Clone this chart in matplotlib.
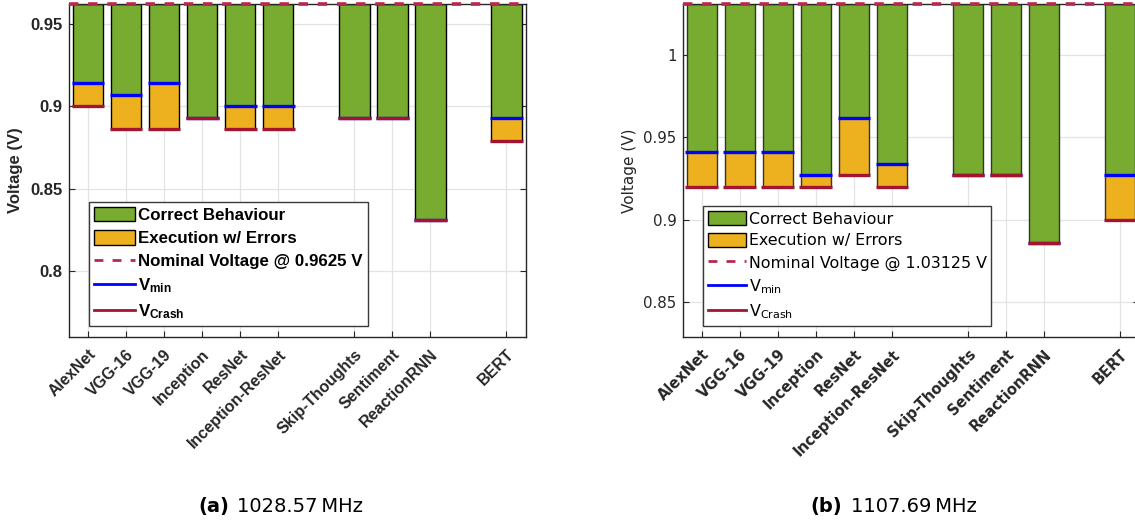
import matplotlib
matplotlib.use("Agg")
import matplotlib.pyplot as plt
from matplotlib.patches import Patch
from matplotlib.lines import Line2D
from matplotlib.font_manager import FontProperties
from matplotlib.transforms import ScaledTranslation

# bold Liberation Sans for the subscripts of the left panel legend
plt.rcParams['mathtext.fontset'] = 'custom'
plt.rcParams['mathtext.rm'] = 'Liberation Sans:bold'
plt.rcParams['mathtext.it'] = 'Liberation Sans:bold'
plt.rcParams['mathtext.bf'] = 'Liberation Sans:bold'

# --- Data ---
models = ['AlexNet', 'VGG-16', 'VGG-19', 'Inception', 'ResNet', 'Inception-ResNet',
          'Skip-Thoughts', 'Sentiment', 'ReactionRNN', 'BERT']

freq_a = '1028.57'
nominal_a = 0.9625
vmin_a = [0.914, 0.907, 0.914, 0.893, 0.900, 0.900, 0.893, 0.893, 0.831, 0.893]
vcrash_a = [0.900, 0.886, 0.886, 0.893, 0.886, 0.886, 0.893, 0.893, 0.831, 0.879]
yticks_a = [0.8, 0.85, 0.9, 0.95]
yticklabels_a = ['0.8', '0.85', '0.9', '0.95']

freq_b = '1107.69'
nominal_b = 1.03125
vmin_b = [0.941, 0.941, 0.941, 0.927, 0.962, 0.934, 0.927, 0.927, 0.886, 0.927]
vcrash_b = [0.920, 0.920, 0.920, 0.920, 0.927, 0.920, 0.927, 0.927, 0.886, 0.900]
yticks_b = [0.85, 0.9, 0.95, 1.0]
yticklabels_b = ['0.85', '0.9', '0.95', '1']

# bar slots, with gaps between the CNN / RNN / transformer groups
xpos = [1, 2, 3, 4, 5, 6, 8, 9, 10, 12]

GREEN = '#77AC30'
ORANGE = '#EDB120'
BLUE = '#0000FF'
CRASH = '#A2142F'
NOMINAL = '#B5294E'
AXC = '#262626'


def draw_panel(fig, ax, nominal, vmin, vcrash, ylo, yticks, yticklabels,
               family, tick_size, xtick_size, label_size, leg_size,
               label_weight, leg_weight, math_family, edge):
    bw = 0.8
    err = [v - c for v, c in zip(vmin, vcrash)]
    ok = [nominal - v for v in vmin]
    ax.bar(xpos, err, bottom=vcrash, width=bw, color=ORANGE, edgecolor=edge,
           linewidth=1.0, zorder=2)
    ax.bar(xpos, ok, bottom=vmin, width=bw, color=GREEN, edgecolor=edge,
           linewidth=1.0, zorder=2)
    x0 = [x - 0.43 for x in xpos]
    x1 = [x + 0.43 for x in xpos]
    ax.hlines(vmin, x0, x1, color=BLUE, linewidth=2.4, zorder=4)
    ax.hlines(vcrash, x0, x1, color=CRASH, linewidth=2.4, zorder=5)
    ax.axhline(nominal, color=NOMINAL, linewidth=2.6, linestyle=(0, (2.6, 2.7)),
               clip_on=False, zorder=6)

    ax.set_xlim(0.5, 12.5)
    ax.set_ylim(ylo, nominal)
    ax.set_yticks(yticks)
    ax.set_yticklabels(yticklabels, family=family, fontsize=tick_size,
                       fontweight=label_weight, color=AXC)
    ax.set_xticks(xpos)
    ax.set_xticklabels(models, rotation=45, ha='right', va='top',
                       rotation_mode='anchor', family=family,
                       fontsize=xtick_size, fontweight='bold', color=AXC)
    shift = ScaledTranslation(6 / 100, 0, fig.dpi_scale_trans)
    for lab in ax.get_xticklabels():
        lab.set_transform(lab.get_transform() + shift)

    ax.tick_params(axis='both', direction='in', top=True, right=True,
                   length=4, width=0.8, color=AXC)
    ax.tick_params(axis='x', pad=7)
    ax.tick_params(axis='y', pad=4.5)
    ax.grid(True, color='#e3e3e3', linewidth=0.9)
    ax.set_axisbelow(True)
    for sp in ax.spines.values():
        sp.set_color(AXC)
        sp.set_linewidth(1.0)

    ax.set_ylabel('Voltage (V)', family=family, fontsize=label_size,
                  fontweight=label_weight, color=AXC)
    ax.yaxis.set_label_coords(-0.101, 0.5)

    fp = FontProperties(family=family, weight=leg_weight, size=leg_size,
                        math_fontfamily=math_family)
    handles = [
        Patch(facecolor=GREEN, edgecolor='black', label='Correct Behaviour'),
        Patch(facecolor=ORANGE, edgecolor='black', label='Execution w/ Errors'),
        Line2D([], [], color=NOMINAL, linewidth=2.0, linestyle=(0, (3.2, 3.3)),
               label=f'Nominal Voltage @ {nominal:g} V'),
        Line2D([], [], color=BLUE, linewidth=2.0, label=r'V$_{\mathrm{min}}$'),
        Line2D([], [], color=CRASH, linewidth=2.0, label=r'V$_{\mathrm{Crash}}$'),
    ]
    leg = ax.legend(handles=handles, loc='lower left', bbox_to_anchor=(0.044, 0.033),
                    borderaxespad=0, prop=fp, fancybox=False, framealpha=1,
                    edgecolor='#3a3a3a', handlelength=2.4, handleheight=0.95,
                    handletextpad=0.2, labelspacing=0.42, borderpad=0.3)
    leg.get_frame().set_linewidth(1.0)
    for t in leg.get_texts():
        t.set_color('black')


fig = plt.figure(figsize=(11.35, 5.24), dpi=100)
ax_a = fig.add_axes([69 / 1135, 187 / 524, 456.5 / 1135, 333.2 / 524])
ax_b = fig.add_axes([682.7 / 1135, 187 / 524, 456.5 / 1135, 333.2 / 524])

draw_panel(fig, ax_a, nominal_a, vmin_a, vcrash_a, 0.7597, yticks_a, yticklabels_a,
           'Liberation Sans', 12, 11.5, 12, 12.2, 'bold', 'bold', 'custom', 'black')
draw_panel(fig, ax_b, nominal_b, vmin_b, vcrash_b, 0.8287, yticks_b, yticklabels_b,
           'DejaVu Sans', 10.8, 10.5, 11, 11.4, 'normal', 'normal', 'dejavusans', '#333333')

# sub-figure captions
cap_y = 1 - 512 / 524
fig.text(198 / 1135, cap_y, '(a)', fontsize=14, fontweight='bold', va='baseline',
         family='DejaVu Sans')
fig.text(237 / 1135, cap_y, f'{freq_a}\u2009MHz', fontsize=14, va='baseline',
         family='DejaVu Sans')
fig.text(810 / 1135, cap_y, '(b)', fontsize=14, fontweight='bold', va='baseline',
         family='DejaVu Sans')
fig.text(851 / 1135, cap_y, f'{freq_b}\u2009MHz', fontsize=14, va='baseline',
         family='DejaVu Sans')

fig.savefig('out.png', dpi=100)
